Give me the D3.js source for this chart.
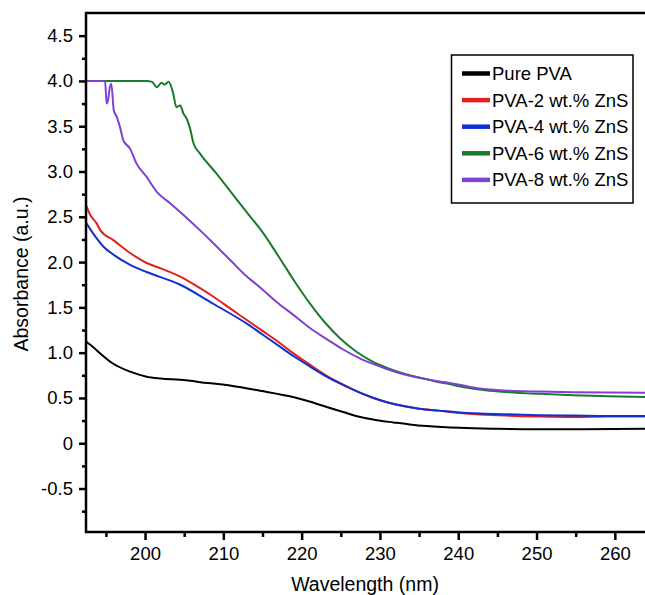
<!DOCTYPE html>
<html>
<head>
<meta charset="utf-8">
<script src="https://cdn.jsdelivr.net/npm/d3@7"></script>
<style>
  body { margin: 0; background: #fff; }
  svg { display: block; font-family: 'Liberation Sans', Arial, sans-serif; }
</style>
</head>
<body>
<script>
// series names and tick labels
var names = ['Pure PVA', 'PVA-2 wt.% ZnS', 'PVA-4 wt.% ZnS', 'PVA-6 wt.% ZnS', 'PVA-8 wt.% ZnS']
var xTicks = [200, 210, 220, 230, 240, 250, 260]
var yTicks = [-0.5, 0, 0.5, 1.0, 1.5, 2.0, 2.5, 3.0, 3.5, 4.0, 4.5]

// wavelength (nm) / absorbance
var pureWl  = [192.5, 193.4, 194.3, 195.9, 198.1, 200.2, 202, 204.5, 208, 211, 214.7, 218.9, 221, 223.2, 225.3, 227.5, 229.6, 231.7, 234, 236, 240.2, 245, 250, 256, 264]
var pureAbs = [1.12, 1.06, 0.99, 0.88, 0.79, 0.735, 0.715, 0.70, 0.665, 0.635, 0.58, 0.51, 0.46, 0.40, 0.345, 0.29, 0.255, 0.23, 0.205, 0.19, 0.17, 0.16, 0.155, 0.155, 0.16]

var pva2Wl  = [192.5, 193.0, 193.8, 194.3, 196, 198.1, 200.2, 202, 204.5, 206.5, 208.7, 211, 213, 215, 217, 219, 221, 223, 225, 227, 229, 231, 233, 235, 237.5, 240.2, 246, 250.4, 255, 259, 264]
var pva2Abs = [2.62, 2.52, 2.43, 2.35, 2.24, 2.10, 1.99, 1.93, 1.84, 1.74, 1.62, 1.48, 1.36, 1.24, 1.12, 0.99, 0.87, 0.755, 0.66, 0.575, 0.505, 0.45, 0.41, 0.38, 0.36, 0.335, 0.305, 0.295, 0.29, 0.295, 0.295]

var pva4Wl  = [192.5, 193.5, 194.7, 196, 198.1, 200.2, 204.5, 208.7, 213, 215, 217, 219, 221, 223, 225, 227, 229, 231, 233, 235, 237.5, 240.2, 246, 250.4, 255, 259, 264]
var pva4Abs = [2.43, 2.30, 2.17, 2.08, 1.97, 1.89, 1.75, 1.54, 1.32, 1.20, 1.08, 0.96, 0.85, 0.745, 0.655, 0.575, 0.505, 0.45, 0.41, 0.38, 0.36, 0.34, 0.32, 0.31, 0.305, 0.30, 0.30]

var pva6Wl  = [192.5, 200.2, 200.9, 201.5, 202.1, 202.5, 203.0, 203.6, 204.0, 204.5, 204.9, 205.3, 205.7, 206.2, 207, 209, 211, 213, 215, 217, 219, 221, 223, 225, 227, 229, 231, 233, 235, 237, 239, 241, 243.5, 246.2, 250.4, 254.7, 259, 264]
var pva6Abs = [4.0, 4.0, 3.99, 3.93, 3.98, 3.96, 3.99, 3.86, 3.71, 3.73, 3.64, 3.585, 3.49, 3.31, 3.20, 2.99, 2.77, 2.55, 2.33, 2.07, 1.80, 1.55, 1.33, 1.15, 1.01, 0.905, 0.83, 0.77, 0.725, 0.685, 0.65, 0.615, 0.585, 0.565, 0.545, 0.53, 0.52, 0.51]

var pva8Wl  = [192.5, 194.7, 194.9, 195.1, 195.3, 195.5, 195.7, 196.0, 196.4, 196.8, 197.2, 198.1, 198.9, 200.2, 201.5, 203.2, 205.3, 207.4, 208.7, 210.9, 213, 214.7, 216.8, 218.9, 221.1, 223.2, 225.3, 227.5, 229.6, 231.7, 233.8, 236, 238.1, 240.2, 241.9, 246.2, 250.4, 254.7, 264]
var pva8Abs = [4.0, 4.0, 3.99, 3.75, 3.80, 3.93, 3.97, 3.68, 3.60, 3.49, 3.35, 3.25, 3.09, 2.94, 2.775, 2.65, 2.49, 2.32, 2.21, 2.02, 1.84, 1.72, 1.56, 1.42, 1.27, 1.15, 1.035, 0.935, 0.86, 0.795, 0.745, 0.705, 0.675, 0.645, 0.615, 0.58, 0.57, 0.563, 0.556]

var colors = ['#000000', '#e3201c', '#1030d2', '#1b7a2e', '#8040d0']

var width = 645
var height = 595

var series = [
  [pureWl, pureAbs], [pva2Wl, pva2Abs], [pva4Wl, pva4Abs], [pva6Wl, pva6Abs], [pva8Wl, pva8Abs]
].map(function (s, i) {
  return { name: names[i], color: colors[i], pts: s[0].map(function (w, j) { return [w, s[1][j]] }) }
})

var x = d3.scaleLinear()
    .domain([192.46, 263.85])
    .range([86, 645])

var y = d3.scaleLinear()
    .domain([-0.98, 4.75])
    .range([532, 13])

var svg = d3.select('body').append('svg')
    .attr('width', width)
    .attr('height', height)

svg.append('clipPath').attr('id', 'clip')
  .append('rect')
    .attr('x', x.range()[0])
    .attr('y', y.range()[1])
    .attr('width', x.range()[1] - x.range()[0])
    .attr('height', y.range()[0] - y.range()[1])

var line = d3.line()
    .x(function (d) { return x(d[0]) })
    .y(function (d) { return y(d[1]) })
    .curve(d3.curveMonotoneX)

svg.append('g').attr('clip-path', 'url(#clip)')
  .selectAll('path')
    .data(series)
  .enter().append('path')
    .attr('d', function (d) { return line(d.pts) })
    .style('fill', 'none')
    .style('stroke', function (d) { return d.color })
    .style('stroke-width', 2)
    .style('stroke-linejoin', 'round')

// axes
var fmtY = function (d) { return d === 0 ? '0' : d3.format('.1f')(d).replace('\u2212', '-') }

svg.append('g')
    .attr('transform', 'translate(' + x.range()[0] + ',0)')
    .call(d3.axisLeft(y).tickValues(yTicks).tickFormat(fmtY).tickSize(7).tickPadding(6))
svg.append('g')
    .attr('transform', 'translate(' + x.range()[0] + ',0)')
    .call(d3.axisLeft(y).tickValues(d3.range(-0.75, 4.5, 0.5)).tickFormat('').tickSize(4))

svg.append('g')
    .attr('transform', 'translate(0,' + y.range()[0] + ')')
    .call(d3.axisBottom(x).tickValues(xTicks).tickFormat(d3.format('d')).tickSize(8).tickPadding(7))
svg.append('g')
    .attr('transform', 'translate(0,' + y.range()[0] + ')')
    .call(d3.axisBottom(x).tickValues(d3.range(195, 264, 10)).tickFormat('').tickSize(5))

svg.selectAll('.domain').remove()
svg.selectAll('.tick line').style('stroke', '#000').style('stroke-width', 2.5)
svg.selectAll('.tick text')
    .style('font-size', '18.5px')
    .style('fill', '#000')

// frame: left, bottom, top
svg.append('path')
    .attr('d', 'M' + x.range()[1] + ',' + y.range()[1] + 'H' + x.range()[0] + 'V' + y.range()[0] + 'H' + x.range()[1])
    .style('fill', 'none')
    .style('stroke', '#000')
    .style('stroke-width', 2.5)

// titles
svg.append('text')
    .attr('x', 365)
    .attr('y', 591)
    .attr('text-anchor', 'middle')
    .style('font-size', '19.5px')
    .text('Wavelength (nm)')

svg.append('text')
    .attr('transform', 'translate(28,274) rotate(-90)')
    .attr('text-anchor', 'middle')
    .style('font-size', '19.5px')
    .text('Absorbance (a.u.)')

// legend
var legend = svg.append('g')
legend.append('rect')
    .attr('x', 451.5)
    .attr('y', 55)
    .attr('width', 181.5)
    .attr('height', 148)
    .style('fill', '#fff')
    .style('stroke', '#000')
    .style('stroke-width', 1.5)

var item = legend.selectAll('g.item')
    .data(series)
  .enter().append('g')
    .attr('class', 'item')
    .attr('transform', function (d, i) { return 'translate(0,' + (73.5 + i * 26.6) + ')' })

item.append('line')
    .attr('x1', 462).attr('x2', 490)
    .style('stroke', function (d) { return d.color })
    .style('stroke-width', 4.5)

item.append('text')
    .attr('x', 492)
    .attr('dy', '0.35em')
    .style('font-size', '18.5px')
    .text(function (d) { return d.name })
</script>
</body>
</html>
